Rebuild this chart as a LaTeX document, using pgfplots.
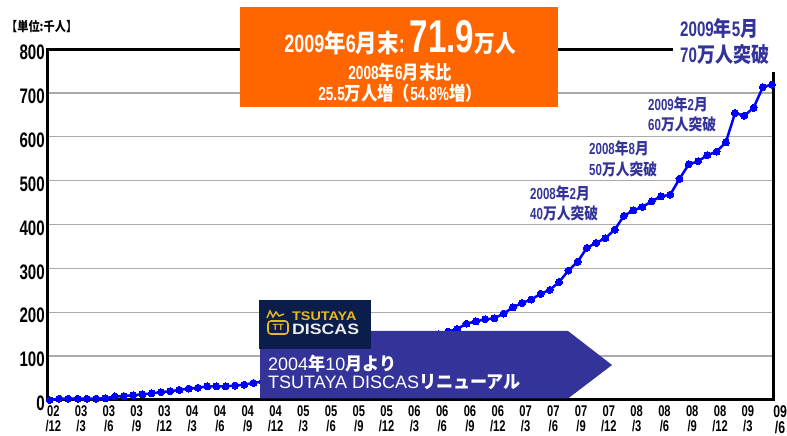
\documentclass[border=0pt]{standalone}
\usepackage{fontspec}
\usepackage{graphicx}
\usepackage{pgfplots}
\pgfplotsset{compat=1.18}
\setmainfont{Liberation Sans}
\newfontfamily\latc{Liberation Sans}[FakeStretch=0.72]
\newfontfamily\jp{Noto Sans CJK JP}[FakeStretch=0.86]
\newfontfamily\jpw{Noto Sans CJK JP}[FakeStretch=0.95]
\newcommand\J[1]{{\jp #1}}
\newcommand\W[1]{{\jpw\bfseries #1}}
\definecolor{orng}{HTML}{FF6600}
\definecolor{navy3}{HTML}{333399}
\definecolor{logobg}{HTML}{0B1D4A}
\definecolor{gold}{HTML}{E8B820}
\definecolor{gridg}{HTML}{AAAAAA}
\begin{document}
\begin{tikzpicture}
\path[use as bounding box] (0pt,0pt) rectangle (787pt,436pt);
\begin{axis}[
  at={(47pt,36pt)}, anchor=south west,
  scale only axis, width=726pt, height=351pt,
  xmin=-0.3, xmax=78.1, ymin=0, ymax=800,
  clip=false,
  axis line style={line width=3pt, black},
  major tick length=0pt,
  ymajorgrids, major grid style={gridg, line width=1.3pt},
  ytick={0,100,...,800},
  xtick={0,3,...,75},
  xticklabels={{02\\/12},{03\\/3},{03\\/6},{03\\/9},{03\\/12},{04\\/3},{04\\/6},{04\\/9},{04\\/12},{05\\/3},{05\\/6},{05\\/9},{05\\/12},{06\\/3},{06\\/6},{06\\/9},{06\\/12},{07\\/3},{07\\/6},{07\\/9},{07\\/12},{08\\/3},{08\\/6},{08\\/9},{08\\/12},{09\\/3}},
  /pgf/number format/assume math mode=true,
  xticklabel style={font=\latc\bfseries\fontsize{15.5}{15}\selectfont, align=center, xshift=3.5pt, inner sep=2pt, yshift=-3pt},
  yticklabel style={font=\latc\bfseries\fontsize{21}{21}\selectfont, inner xsep=2pt, yshift=-3.5pt},
]
\addplot[color=blue, line width=2.5pt, mark=*, mark size=3.5pt, mark options={fill=blue, draw=blue, line width=0pt}] table {
x y
0 0
1 3
2 3
3 3
4 3
5 3
6 4
7 8
8 9
9 11
10 13
11 15
12 18
13 20
14 23
15 26
16 28
17 31
18 31
19 31
20 33
21 35
22 39
23 42
24 46
25 50
26 55
27 60
28 66
29 72
30 78
31 84
32 90
33 96
34 102
35 108
36 114
37 120
38 126
39 132
40 138
41 144
42 150
43 156
44 162
45 174
46 179
47 184
48 186
49 197
50 211
51 221
52 229
53 242
54 251
55 269
56 295
57 315
58 347
59 358
60 369
61 388
62 420
63 432
64 440
65 453
66 464
67 468
68 504
69 537
70 544
71 558
72 566
73 587
74 654
75 648
76 666
77 713
78 719
};
\node[anchor=north, align=center, font=\latc\bfseries\fontsize{17}{16}\selectfont, inner sep=0pt] at (axis cs:78,0) [xshift=8pt, yshift=-5pt] {09\\/6};
\end{axis}
% orange box
\fill[orng] (240pt,329pt) rectangle (558pt,429pt);
\node[anchor=base, text=white, font=\latc\bfseries, inner sep=0pt] at (400pt,383pt)
  {\fontsize{25}{25}\selectfont 2009\J{年}6\J{月末}:\hspace{5pt}\fontsize{46}{46}\selectfont 71.9\fontsize{24}{24}\selectfont\J{万人}};
\node[anchor=base, text=white, font=\latc\bfseries, inner sep=0pt] at (400pt,356pt)
  {\fontsize{19}{19}\selectfont 2008\J{年}6\J{月末比}};
\node[anchor=base, text=white, font=\latc\bfseries, inner sep=0pt] at (400pt,335pt)
  {\fontsize{19}{19}\selectfont 25.5\J{万人増（}54.8\%\J{増）}};
% top-right annotation
\fill[white] (673pt,364pt) rectangle (787pt,436pt);
\begin{scope}[every node/.style={anchor=base west, text=navy3, font=\latc\bfseries, inner sep=0pt}]
\node at (680pt,399pt) {\fontsize{21}{21}\selectfont 2009\J{年}5\J{月}};
\node at (680pt,373pt) {\fontsize{21}{21}\selectfont 70\J{万人突破}};
\node at (648pt,325pt) {\fontsize{16}{16}\selectfont 2009\J{年}2\J{月}};
\node at (648pt,305pt) {\fontsize{16}{16}\selectfont 60\J{万人突破}};
\node at (589pt,281pt) {\fontsize{16}{16}\selectfont 2008\J{年}8\J{月}};
\node at (589pt,260pt) {\fontsize{16}{16}\selectfont 50\J{万人突破}};
\node at (530pt,236pt) {\fontsize{16}{16}\selectfont 2008\J{年}2\J{月}};
\node at (530pt,216pt) {\fontsize{16}{16}\selectfont 40\J{万人突破}};
\end{scope}
% unit label
\node[anchor=base west, inner sep=0pt, font=\jp\bfseries\fontsize{13}{13}\selectfont] at (6pt,404pt) {【単位:千人】};
% blue arrow box
\fill[navy3] (260pt,37.5pt) -- (260pt,105pt) -- (568pt,105pt) -- (612pt,71pt) -- (568pt,37.5pt) -- cycle;
\node[anchor=base west, inner sep=0pt, text=white, font=\fontsize{18}{18}\selectfont] at (268pt,65pt) {2004\W{年}10\W{月より}};
\node[anchor=base west, inner sep=0pt, text=white, font=\fontsize{18}{18}\selectfont] at (268pt,47pt) {TSUTAYA DISCAS\W{リニューアル}};
% logo
\fill[logobg] (259pt,87pt) rectangle (371pt,136pt);
\draw[gold, line width=1.6pt, rounded corners=3pt] (268pt,102pt) rectangle (288pt,115pt);
\node[text=gold, inner sep=0pt, font=\bfseries\fontsize{9}{9}\selectfont] at (278pt,108.5pt) {TT};
\draw[gold, line width=1.4pt] (267pt,118pt) -- (270pt,125pt) -- (273pt,119pt) -- (276pt,124pt) -- (279pt,120pt) -- (284pt,122pt);
\node[anchor=base west, inner sep=0pt, text=gold, font=\bfseries\fontsize{12.5}{12.5}\selectfont] at (292pt,115pt) {\scalebox{1.15}[1]{TSUTAYA}};
\node[anchor=base west, inner sep=0pt, text=gray!15, font=\bfseries\fontsize{15}{15}\selectfont] at (292pt,101pt) {\scalebox{1.18}[1]{DISCAS}};
\end{tikzpicture}
\end{document}
